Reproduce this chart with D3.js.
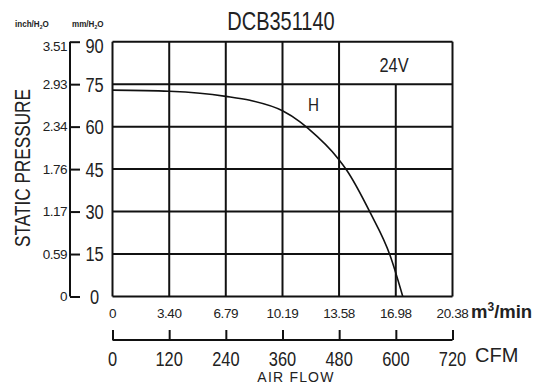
<!DOCTYPE html>
<html><head><meta charset="utf-8">
<script src="https://cdn.jsdelivr.net/npm/d3@7"></script>
<style>body{margin:0;background:#fff}</style>
</head><body>
<svg id="c" width="542" height="385"></svg>
<script>
const title = "DCB351140";
const mmTicks = [0, 15, 30, 45, 60, 75, 90];
const inchLabels = ["0", "0.59", "1.17", "1.76", "2.34", "2.93", "3.51"];
const flowTicks = [0, 3.40, 6.79, 10.19, 13.58, 16.98, 20.38];
const flowLabels = ["0", "3.40", "6.79", "10.19", "13.58", "16.98", "20.38"];
const cfmTicks = [0, 120, 240, 360, 480, 600, 720];
const curveFlow = [0, 3.40, 5.24, 6.79, 8.24, 10.19, 11.24, 11.74, 13.54, 14.04, 15.44, 16.64, 17.40];
const curvePressure = [72.9, 72.5, 71.8, 70.7, 69.3, 65.6, 61.7, 59.3, 48.6, 44.6, 29.7, 14.5, 0];

const SANS = "'Liberation Sans',Arial,sans-serif";
const NS = 0.8; // horizontal squeeze for narrow text

const svg = d3.select("#c");
const x = d3.scaleLinear().domain([0, 20.38]).range([112.5, 452.5]);
const xc = d3.scaleLinear().domain([0, 720]).range([112.5, 452.5]);
const y = d3.scaleLinear().domain([0, 90]).range([296.5, 41.7]);

function narrow(sel, px, py, size, anchor) {
  return sel.attr("transform", (d, i) => `translate(${typeof px === "function" ? px(d, i) : px},${typeof py === "function" ? py(d, i) : py}) scale(${NS},1)`)
    .attr("text-anchor", anchor || "middle")
    .style("font-family", SANS).style("font-size", size + "px").attr("fill", "#222");
}

const g = svg.append("g");
g.selectAll("line.h").data(mmTicks).enter().append("line")
  .attr("x1", x(0)).attr("x2", x(20.38))
  .attr("y1", d => y(d)).attr("y2", d => y(d))
  .attr("stroke", "#111").attr("stroke-width", 2);
g.selectAll("line.v").data(flowTicks).enter().append("line")
  .attr("x1", d => x(d)).attr("x2", d => x(d))
  .attr("y1", (d, i) => i === 5 ? y(75) : y(90)).attr("y2", y(0))
  .attr("stroke", "#111").attr("stroke-width", 2);

const line = d3.line().x(d => x(d[0])).y(d => y(d[1])).curve(d3.curveMonotoneX);
svg.append("path").datum(curveFlow.map((f, i) => [f, curvePressure[i]]))
  .attr("d", line).attr("fill", "none").attr("stroke", "#111").attr("stroke-width", 1.6);

const axL = svg.append("g").attr("transform", "translate(70,0)");
axL.call(d3.axisRight(y).tickValues(mmTicks).tickSize(10).tickFormat(""));
axL.select(".domain").attr("d", `M0,${y(0)}V${y(90)}`).attr("stroke", "#111").attr("stroke-width", 2);
axL.selectAll(".tick line").attr("stroke", "#111").attr("stroke-width", 2);

narrow(svg.selectAll("text.mm").data(mmTicks).enter().append("text"),
  94.5, d => y(d) + (d === 90 ? 4 : 0) + 7.4, 20.5).text(d => d);
svg.selectAll("text.in").data(mmTicks).enter().append("text")
  .attr("x", 67).attr("y", (d) => y(d) + (d === 90 ? 4 : 0)).attr("dy", "0.36em")
  .attr("text-anchor", "end").style("font-family", SANS).style("font-size", "13.5px")
  .style("letter-spacing", "-0.5px")
  .attr("fill", "#222").text((d, i) => inchLabels[i]);

function unitHdr(xx, pre) {
  const t = svg.append("text").attr("transform", `translate(${xx},27) scale(0.85,1)`)
    .style("font-family", SANS).style("font-size", "9.5px").style("font-weight", "bold")
    .attr("fill", "#222");
  t.append("tspan").text(pre + "/H");
  t.append("tspan").attr("dy", 2).style("font-size", "6px").text("2");
  t.append("tspan").attr("dy", -2).text("O");
}
unitHdr(15, "inch");
unitHdr(72, "mm");

svg.append("text").attr("transform", "translate(30,168) rotate(-90) scale(0.8,1)")
  .attr("text-anchor", "middle").style("font-family", SANS).style("font-size", "21.5px")
  .attr("fill", "#222").text("STATIC PRESSURE");

narrow(svg.append("text"), 281, 30, 25).text(title);
narrow(svg.append("text"), 394, 72, 20.5).text("24V");
narrow(svg.append("text"), 313.5, 110.7, 19).text("H");

svg.selectAll("text.fl").data(flowTicks).enter().append("text")
  .attr("x", d => x(d)).attr("y", 318).attr("text-anchor", "middle")
  .style("font-family", SANS).style("font-size", "13.5px").style("letter-spacing", "-0.4px")
  .attr("fill", "#222").text((d, i) => flowLabels[i]);
const mu = svg.append("text").attr("x", 471).attr("y", 318)
  .style("font-family", SANS).style("font-size", "18.5px").style("font-weight", "bold").attr("fill", "#222");
mu.append("tspan").text("m");
mu.append("tspan").attr("dy", -7).style("font-size", "12px").text("3");
mu.append("tspan").attr("dy", 7).text("/min");

const axB = svg.append("g").attr("transform", "translate(0,340)");
axB.call(d3.axisTop(xc).tickValues(cfmTicks).tickSize(10).tickFormat(""));
axB.select(".domain").attr("d", `M${xc(0)},0H${xc(720)}`).attr("stroke", "#111").attr("stroke-width", 2);
axB.selectAll(".tick line").attr("stroke", "#111").attr("stroke-width", 2);
narrow(svg.selectAll("text.cfm").data(cfmTicks).enter().append("text"),
  d => xc(d), 366, 20.5).text(d => d);
svg.append("text").attr("x", 475).attr("y", 362)
  .style("font-family", SANS).style("font-size", "20px").attr("fill", "#222").text("CFM");
svg.append("text").attr("x", 296).attr("y", 382).attr("text-anchor", "middle")
  .style("font-family", SANS).style("font-size", "14px").style("letter-spacing", "1.2px")
  .attr("fill", "#222").text("AIR FLOW");
</script>
</body></html>
